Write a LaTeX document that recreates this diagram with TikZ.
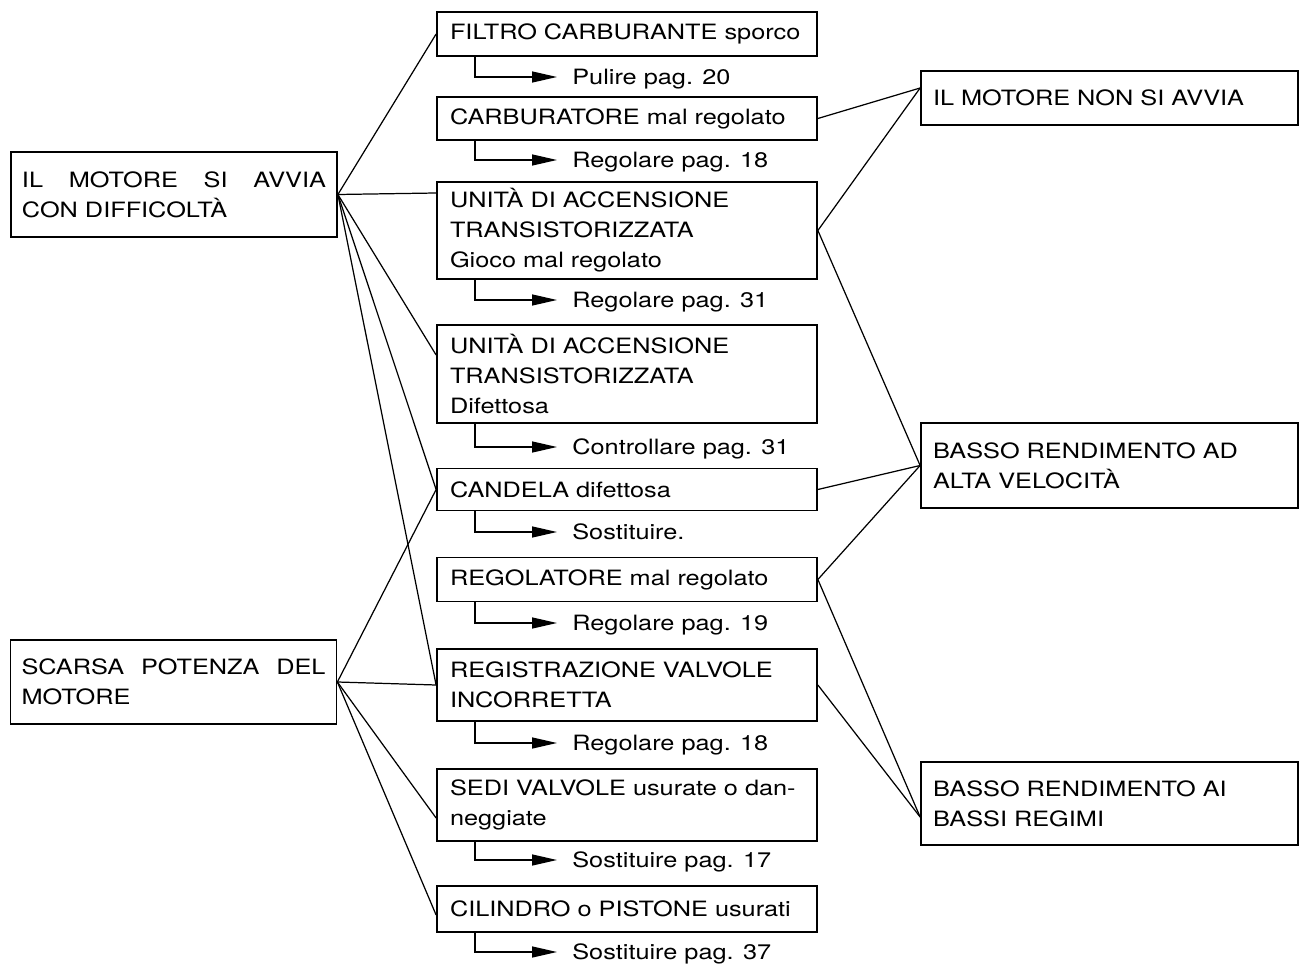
\documentclass[tikz,border=0pt]{standalone}
\usepackage{fontspec}
\setmainfont[FakeStretch=1.2]{TeX Gyre Heros}
\usetikzlibrary{arrows.meta}

\begin{document}
\begin{tikzpicture}[
        % Testo di tutti i nodi
        every node/.append style={font=\fontsize{12}{17}\selectfont},
        % Caselle dei sintomi (a sinistra e a destra)
        sintomo/.style={draw, line width=1pt, inner xsep=0.22cm, align=left},
        % Caselle delle cause (colonna centrale)
        causa/.style={draw, line width=1pt, inner xsep=0.26cm, text width=7.08cm, align=left},
        % Rimedi sotto le cause
        rimedio/.style={anchor=west, inner xsep=0.3cm, text height=8.6pt, text depth=0pt},
        % Linee di collegamento e frecce
        linea/.style={black, line width=0.7pt},
        freccia/.style={black, line width=0.8pt, -{Triangle[length=0.5cm, width=0.22cm]}}
    ]
        \useasboundingbox (0,0) rectangle (26.04,-19.32);

        % Sintomi a sinistra
        \node[sintomo, text width=6.08cm, minimum height=1.7cm] (A) at (3.48,-3.89) {IL\hfill MOTORE\hfill SI\hfill AVVIA\\CON DIFFICOLTÀ};
        \node[sintomo, text width=6.08cm, minimum height=1.68cm] (B) at (3.47,-13.64) {SCARSA\hfill POTENZA\hfill DEL\\MOTORE};

        % Cause nella colonna centrale
        \node[causa, minimum height=0.88cm] (c1) at (12.54,-0.68) {FILTRO CARBURANTE sporco};
        \node[causa, minimum height=0.86cm] (c2) at (12.54,-2.37) {CARBURATORE mal regolato};
        \node[causa, minimum height=1.94cm] (c3) at (12.54,-4.61) {UNITÀ DI ACCENSIONE\\TRANSISTORIZZATA\\Gioco mal regolato};
        \node[causa, minimum height=1.96cm] (c4) at (12.54,-7.48) {UNITÀ DI ACCENSIONE\\TRANSISTORIZZATA\\Difettosa};
        \node[causa, minimum height=0.84cm] (c5) at (12.54,-9.79) {CANDELA difettosa};
        \node[causa, minimum height=0.88cm] (c6) at (12.54,-11.59) {REGOLATORE mal regolato};
        \node[causa, minimum height=1.44cm] (c7) at (12.54,-13.70) {REGISTRAZIONE VALVOLE\\INCORRETTA};
        \node[causa, minimum height=1.44cm] (c8) at (12.54,-16.10) {SEDI VALVOLE usurate o dan-\\neggiate};
        \node[causa, minimum height=0.92cm] (c9) at (12.54,-18.18) {CILINDRO o PISTONE usurati};

        % Rimedi
        \node[rimedio] (a1) at (11.14,-1.54) {Pulire pag. 20};
        \node[rimedio] (a2) at (11.14,-3.20) {Regolare pag. 18};
        \node[rimedio] (a3) at (11.14,-6.00) {Regolare pag. 31};
        \node[rimedio] (a4) at (11.14,-8.94) {Controllare pag. 31};
        \node[rimedio] (a5) at (11.14,-10.64) {Sostituire.};
        \node[rimedio] (a6) at (11.14,-12.46) {Regolare pag. 19};
        \node[rimedio] (a7) at (11.14,-14.86) {Regolare pag. 18};
        \node[rimedio] (a8) at (11.14,-17.20) {Sostituire pag. 17};
        \node[rimedio] (a9) at (11.14,-19.04) {Sostituire pag. 37};

        % Sintomi a destra
        \node[sintomo, inner xsep=0.24cm, text width=7.06cm, minimum height=1.08cm] (r1) at (22.19,-1.96) {IL MOTORE NON SI AVVIA};
        \node[sintomo, inner xsep=0.24cm, text width=7.06cm, minimum height=1.7cm] (r2) at (22.19,-9.31) {BASSO RENDIMENTO AD\\ALTA VELOCITÀ};
        \node[sintomo, inner xsep=0.24cm, text width=7.06cm, minimum height=1.66cm] (r3) at (22.19,-16.07) {BASSO RENDIMENTO AI\\BASSI REGIMI};

        % Frecce verso i rimedi
        \foreach \i in {1,...,9}
            \draw[freccia] ([xshift=0.78cm]c\i.south west) |- (a\i.west);

        % Collegamenti dai sintomi di sinistra
        \draw[linea] (A.east) -- (c1.west);
        \draw[linea] (A.east) -- ([yshift=0.75cm]c3.west);
        \draw[linea] (A.east) -- ([yshift=0.38cm]c4.west);
        \draw[linea] (A.east) -- (c5.west);
        \draw[linea] (A.east) -- (c7.west);
        \draw[linea] (B.east) -- (c5.west);
        \draw[linea] (B.east) -- (c7.west);
        \draw[linea] (B.east) -- ([yshift=-0.26cm]c8.west);
        \draw[linea] (B.east) -- ([yshift=-0.12cm]c9.west);

        % Collegamenti verso i sintomi di destra
        \draw[linea] (c2.east) -- ([yshift=0.2cm]r1.west);
        \draw[linea] (c3.east) -- ([yshift=0.2cm]r1.west);
        \draw[linea] (c3.east) -- (r2.west);
        \draw[linea] (c5.east) -- (r2.west);
        \draw[linea] (c6.east) -- (r2.west);
        \draw[linea] (c6.east) -- ([yshift=-0.27cm]r3.west);
        \draw[linea] (c7.east) -- ([yshift=-0.27cm]r3.west);

    \end{tikzpicture}
\end{document}
